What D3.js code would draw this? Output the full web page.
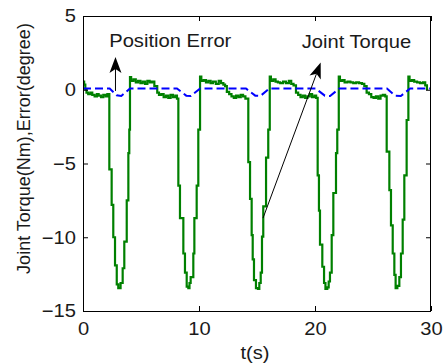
<!DOCTYPE html>
<html>
<head>
<meta charset="utf-8">
<script src="https://cdn.jsdelivr.net/npm/d3@7"></script>
<style>
  html, body { margin: 0; padding: 0; background: #fff; }
  svg { display: block; font-family: "Liberation Sans", Arial, sans-serif; }
</style>
</head>
<body>
<svg id="chart" width="448" height="364"></svg>
<script>
// ---------- data ----------
const xTicks = [0, 10, 20, 30];
const yTicks = [-15, -10, -5, 0, 5];

// Joint torque (Nm), step samples: time (s) and value
const torqueTime = [
  0.00,0.10,0.20,0.30,0.45,0.65,0.80,1.00,1.20,1.35,1.55,1.75,1.95,2.10,
  2.27,2.47,2.61,2.76,2.91,3.04,3.24,3.42,3.56,3.77,3.91,3.99,4.05,
  4.15,4.35,4.55,4.75,4.95,5.15,5.35,5.55,5.75,5.95,6.15,
  6.40,6.55,6.75,6.95,7.15,7.35,7.55,7.75,7.95,8.10,
  8.22,8.36,8.65,8.79,8.94,9.08,9.18,9.28,9.51,9.60,9.80,9.94,10.09,
  10.20,10.40,10.60,10.80,11.00,11.20,11.45,11.70,11.90,12.10,12.25,
  12.40,12.60,12.80,13.00,13.20,13.40,13.60,13.80,14.00,
  14.25,14.40,14.54,14.63,14.74,14.91,15.08,15.20,15.32,15.43,15.54,15.78,15.97,16.10,
  16.20,16.40,16.60,16.80,17.00,17.25,17.50,17.75,17.95,18.15,
  18.36,18.55,18.75,18.95,19.15,19.35,19.55,19.75,19.95,20.10,
  20.23,20.34,20.43,20.63,20.78,20.90,21.06,21.18,21.29,21.44,21.58,21.81,21.92,22.05,
  22.15,22.35,22.55,22.80,23.05,23.30,23.55,23.80,24.05,24.25,
  24.45,24.65,24.85,25.05,25.25,25.45,25.65,25.85,26.05,
  26.18,26.41,26.55,26.70,26.84,26.95,27.10,27.27,27.41,27.56,27.70,27.90,28.05,
  28.15,28.35,28.55,28.80,29.05,29.30,29.50,29.65,29.75
];
const torqueNm = [
  0.55,0.35,0.05,-0.20,-0.30,-0.20,-0.35,-0.45,-0.30,-0.40,-0.50,-0.35,-0.45,-0.30,
  -5.4,-7.8,-10.0,-11.9,-13.2,-13.45,-13.1,-12.1,-10.3,-7.5,-4.3,-2.7,0.85,
  0.60,0.70,0.50,0.60,0.45,0.55,0.40,0.60,0.50,0.55,0.25,
  -0.20,-0.35,-0.30,-0.50,-0.40,-0.55,-0.35,-0.50,-0.40,-0.60,
  -6.5,-8.7,-11.1,-12.4,-13.35,-13.45,-13.1,-12.7,-11.1,-8.7,-6.5,-2.7,0.90,
  0.60,0.65,0.50,0.60,0.45,0.55,0.40,0.60,0.45,0.35,0.25,
  -0.15,-0.30,-0.45,-0.55,-0.40,-0.50,-0.35,-0.45,-0.60,
  -4.9,-7.4,-9.85,-11.5,-12.9,-13.45,-13.5,-13.1,-12.4,-9.96,-7.9,-4.6,-2.7,0.90,
  0.60,0.70,0.55,0.50,0.45,0.55,0.45,0.60,0.40,0.30,
  -0.20,-0.35,-0.50,-0.40,-0.55,-0.45,-0.30,-0.50,-0.40,-0.55,
  -5.8,-8.2,-10.5,-12.0,-13.1,-13.5,-13.4,-13.0,-12.4,-9.85,-7.0,-4.3,-2.7,0.90,
  0.60,0.65,0.50,0.55,0.50,0.45,0.50,0.45,0.40,0.25,
  -0.20,-0.30,-0.50,-0.55,-0.45,-0.60,-0.40,-0.35,-0.45,
  -4.2,-6.8,-9.2,-11.1,-12.55,-13.45,-13.3,-12.7,-11.1,-8.8,-5.8,-2.05,0.90,
  0.60,0.65,0.55,0.50,0.45,0.50,0.30,0.05,0.05
];

// Position error (degree)
const errorTime = [0, 2.30, 2.90, 3.30, 4.05, 8.10, 8.90, 9.30, 10.10, 14.05, 14.85, 15.30, 16.05,
                   20.05, 20.85, 21.30, 22.10, 26.20, 26.90, 27.40, 28.20, 30];
const errorDeg  = [0.08, 0.08, -0.38, -0.42, 0.08, 0.08, -0.40, -0.42, 0.08, 0.08, -0.40, -0.42, 0.08,
                   0.08, -0.40, -0.42, 0.08, 0.08, -0.40, -0.42, 0.08, 0.08];

// annotations (data coordinates)
const annotationText = ["Position Error", "Joint Torque"];
const annotationAt   = [[2.26, 2.9], [18.85, 2.86]];
const arrowTail      = [[2.8, -0.08], [15.52, -8.7]];
const arrowTip       = [[2.8, 2.22], [20.49, 1.85]];

// ---------- drawing ----------
const svg = d3.select("#chart");
const L = 83, R = 431, T = 16, B = 311;
const x = d3.scaleLinear().domain([0, 30]).range([L, R]);
const y = d3.scaleLinear().domain([-15, 5]).range([B, T]);
const FS = 18, SX = 1.12, TXT = "#1a1a1a";

// data lines
const torque = torqueTime.map((t, i) => [t, torqueNm[i]]);
const err = errorTime.map((t, i) => [t, errorDeg[i]]);

svg.append("path")
  .datum(torque)
  .attr("fill", "none")
  .attr("stroke", "#008000")
  .attr("stroke-width", 2.2)
  .attr("d", d3.line().x(d => x(d[0])).y(d => y(d[1])).curve(d3.curveStepAfter));

svg.append("path")
  .datum(err)
  .attr("fill", "none")
  .attr("stroke", "#0000ff")
  .attr("stroke-width", 2)
  .attr("stroke-dasharray", "8,4")
  .attr("d", d3.line().x(d => x(d[0])).y(d => y(d[1])));

// axes
function styleAxis(g) {
  g.select(".domain").remove();
  g.selectAll(".tick line").attr("stroke", "#000");
  g.selectAll(".tick text").attr("fill", TXT).style("font-size", FS + "px")
    .style("font-family", '"Liberation Sans", Arial, sans-serif');
}
svg.append("g").attr("transform", `translate(0,${B})`)
  .call(d3.axisBottom(x).tickValues(xTicks).tickSizeInner(-5).tickSizeOuter(0).tickPadding(11))
  .call(styleAxis)
  .call(g => g.selectAll(".tick text").attr("transform", `scale(${SX},1)`));
svg.append("g").attr("transform", `translate(${L},0)`)
  .call(d3.axisLeft(y).tickValues(yTicks).tickSizeInner(-5).tickSizeOuter(0).tickPadding(6.3))
  .call(styleAxis)
  .call(g => g.selectAll(".tick text").attr("transform", `scale(${SX},1)`));
svg.append("g").attr("transform", `translate(0,${T})`)
  .call(d3.axisTop(x).tickValues(xTicks).tickSizeInner(-5).tickSizeOuter(0).tickFormat(""))
  .call(styleAxis);
svg.append("g").attr("transform", `translate(${R},0)`)
  .call(d3.axisRight(y).tickValues(yTicks).tickSizeInner(-5).tickSizeOuter(0).tickFormat(""))
  .call(styleAxis);

// frame
svg.append("rect")
  .attr("x", L + 0.5).attr("y", T + 0.5)
  .attr("width", R - L - 1).attr("height", B - T)
  .attr("fill", "none").attr("stroke", "#000").attr("stroke-width", 1);

// axis labels
svg.append("text")
  .attr("transform", `translate(${(L + R) / 2 - 2},359) scale(${SX},1)`)
  .attr("text-anchor", "middle").style("font-size", FS + "px").attr("fill", TXT)
  .text("t(s)");
svg.append("text")
  .attr("transform", "translate(30,148.5) rotate(-90)")
  .attr("text-anchor", "middle").style("font-size", FS + "px").attr("fill", TXT)
  .text("Joint Torque(Nm),Error(degree)");

// annotations
annotationText.forEach((txt, i) => {
  svg.append("text")
    .attr("transform", `translate(${x(annotationAt[i][0])},${y(annotationAt[i][1])}) scale(${SX},1)`)
    .style("font-size", FS + "px").attr("fill", TXT)
    .text(txt);
  const x0 = x(arrowTail[i][0]), y0 = y(arrowTail[i][1]);
  const x1 = x(arrowTip[i][0]), y1 = y(arrowTip[i][1]);
  const dx = x1 - x0, dy = y1 - y0, len = Math.hypot(dx, dy);
  const ux = dx / len, uy = dy / len, px = -uy, py = ux;
  const hl = 16, hw = 6, notch = 4;
  const bx = x1 - ux * hl, by = y1 - uy * hl;
  const nx = x1 - ux * (hl - notch), ny = y1 - uy * (hl - notch);
  svg.append("line")
    .attr("x1", x0).attr("y1", y0).attr("x2", nx).attr("y2", ny)
    .attr("stroke", "#000").attr("stroke-width", 1);
  svg.append("path")
    .attr("d", `M${x1},${y1}L${bx + px * hw},${by + py * hw}L${nx},${ny}L${bx - px * hw},${by - py * hw}Z`)
    .attr("fill", "#000");
});
</script>
</body>
</html>
